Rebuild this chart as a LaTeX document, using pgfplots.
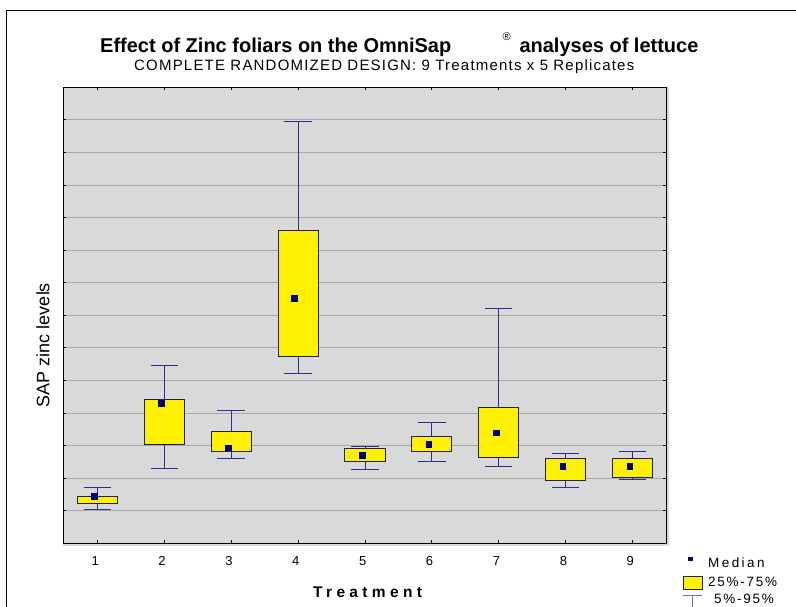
\documentclass[border=0pt]{standalone}
\usepackage{fontspec}
\setmainfont{Liberation Sans}
\usepackage{pgfplots}
\pgfplotsset{compat=1.18}
\usepgfplotslibrary{statistics}
\definecolor{plotbg}{RGB}{217,217,217}
\definecolor{gridc}{RGB}{168,168,168}
\definecolor{whisk}{RGB}{45,45,150}
\definecolor{boxedge}{RGB}{30,30,70}
\definecolor{medc}{RGB}{0,0,120}
\definecolor{legwhisk}{RGB}{110,110,200}
\begin{document}
\begin{tikzpicture}[x=1pt,y=1pt]
\useasboundingbox (0,0) rectangle (796,606);
% outer frame (cut off at right and bottom)
\draw[black, line width=1pt] (6.7,-5) -- (6.7,595) -- (800,595);
% plot area with slight shadow
\fill[plotbg] (63.3,60.3) rectangle (669,518.7);
\begin{axis}[
  at={(63.3pt,62.7pt)}, anchor=south west,
  scale only axis, width=602.7pt, height=456pt,
  xmin=0.49, xmax=9.5, ymin=0, ymax=14,
  xtick={1,...,9}, ytick={1,...,13}, yticklabels={},
  ymajorgrids, major grid style={gridc, line width=0.9pt},
  tick align=inside, tick pos=both, major tick length=3pt,
  tick style={black, line width=0.8pt},
  axis line style={black, line width=1pt},
  /pgf/number format/assume math mode=true,
  xticklabel style={anchor=base, yshift=-21.7pt, xshift=-2.3pt, font=\fontsize{13}{15}\selectfont},
  boxplot/draw direction=y,
  boxplot/box extend=0.6,
  boxplot/whisker extend=0.41,
  boxplot/every box/.style={draw=boxedge, fill=yellow, line width=1pt},
  boxplot/every whisker/.style={draw=whisk, line width=0.9pt},
  boxplot/every median/.style={draw=none},
]
\addplot[boxplot prepared={draw position=1, lower whisker=1.03, lower quartile=1.22, median=1.45, upper quartile=1.43, upper whisker=1.73}] coordinates {};
\addplot[boxplot prepared={draw position=2, lower whisker=2.29, lower quartile=3.02, median=4.31, upper quartile=4.42, upper whisker=5.47}] coordinates {};
\addplot[boxplot prepared={draw position=3, lower whisker=2.62, lower quartile=2.83, median=2.94, upper quartile=3.42, upper whisker=4.07}] coordinates {};
\addplot[boxplot prepared={draw position=4, lower whisker=5.22, lower quartile=5.72, median=7.52, upper quartile=9.61, upper whisker=12.95}] coordinates {};
\addplot[boxplot prepared={draw position=5, lower whisker=2.26, lower quartile=2.52, median=2.71, upper quartile=2.92, upper whisker=2.97}] coordinates {};
\addplot[boxplot prepared={draw position=6, lower whisker=2.52, lower quartile=2.82, median=3.05, upper quartile=3.27, upper whisker=3.72}] coordinates {};
\addplot[boxplot prepared={draw position=7, lower whisker=2.37, lower quartile=2.62, median=3.39, upper quartile=4.17, upper whisker=7.21}] coordinates {};
\addplot[boxplot prepared={draw position=8, lower whisker=1.72, lower quartile=1.92, median=2.37, upper quartile=2.61, upper whisker=2.77}] coordinates {};
\addplot[boxplot prepared={draw position=9, lower whisker=1.97, lower quartile=2.02, median=2.37, upper quartile=2.61, upper whisker=2.82}] coordinates {};
% medians
\addplot[only marks, mark=square*, mark size=2.8pt, mark options={draw=medc, fill=medc}] coordinates {
 (0.955,1.45) (1.955,4.31) (2.955,2.94) (3.94,7.52) (4.955,2.71) (5.955,3.05) (6.96,3.39) (7.955,2.37) (8.955,2.37)};
\end{axis}
% titles
\node[anchor=base west, inner sep=0, font=\fontsize{20}{24}\selectfont\bfseries] at (100,553.7) {Effect of Zinc foliars on the OmniSap};
\node[anchor=base west, inner sep=0, font=\fontsize{11}{13}\selectfont] at (502.5,565.5) {®};
\node[anchor=base west, inner sep=0, font=\fontsize{20}{24}\selectfont\bfseries] at (519.3,553.7) {analyses of lettuce};
\node[anchor=base west, inner sep=0, font={\fontsize{15}{18}\selectfont\addfontfeatures{LetterSpace=8}}] at (134,535.3) {COMPLETE RANDOMIZED DESIGN: 9 Treatments x 5 Replicates};
% axis labels
\node[rotate=90, anchor=base, inner sep=0, font=\fontsize{18}{21}\selectfont] at (49.3,261) {SAP zinc levels};
\node[anchor=base west, inner sep=0, font={\bfseries\fontsize{15.5}{18}\selectfont\addfontfeatures{LetterSpace=28}}] at (313,8.3) {Treatment};
% legend
\fill[medc] (687.7,45.3) rectangle (692.7,49.3);
\node[anchor=base west, inner sep=0, font={\fontsize{13.5}{16}\selectfont\addfontfeatures{LetterSpace=18}}] at (708,39) {Median};
\filldraw[fill=yellow, draw=boxedge, line width=0.9pt] (683.3,16.7) rectangle (702,30);
\node[anchor=base west, inner sep=0, font={\fontsize{13.5}{16}\selectfont\addfontfeatures{LetterSpace=13}}] at (708,20) {25\%-75\%};
\draw[legwhisk, line width=0.9pt] (683,11) -- (702,11) (692.7,11) -- (692.7,-3);
\node[anchor=base west, inner sep=0, font={\fontsize{13.5}{16}\selectfont\addfontfeatures{LetterSpace=13}}] at (714,2.2) {5\%-95\%};
\end{tikzpicture}
\end{document}
